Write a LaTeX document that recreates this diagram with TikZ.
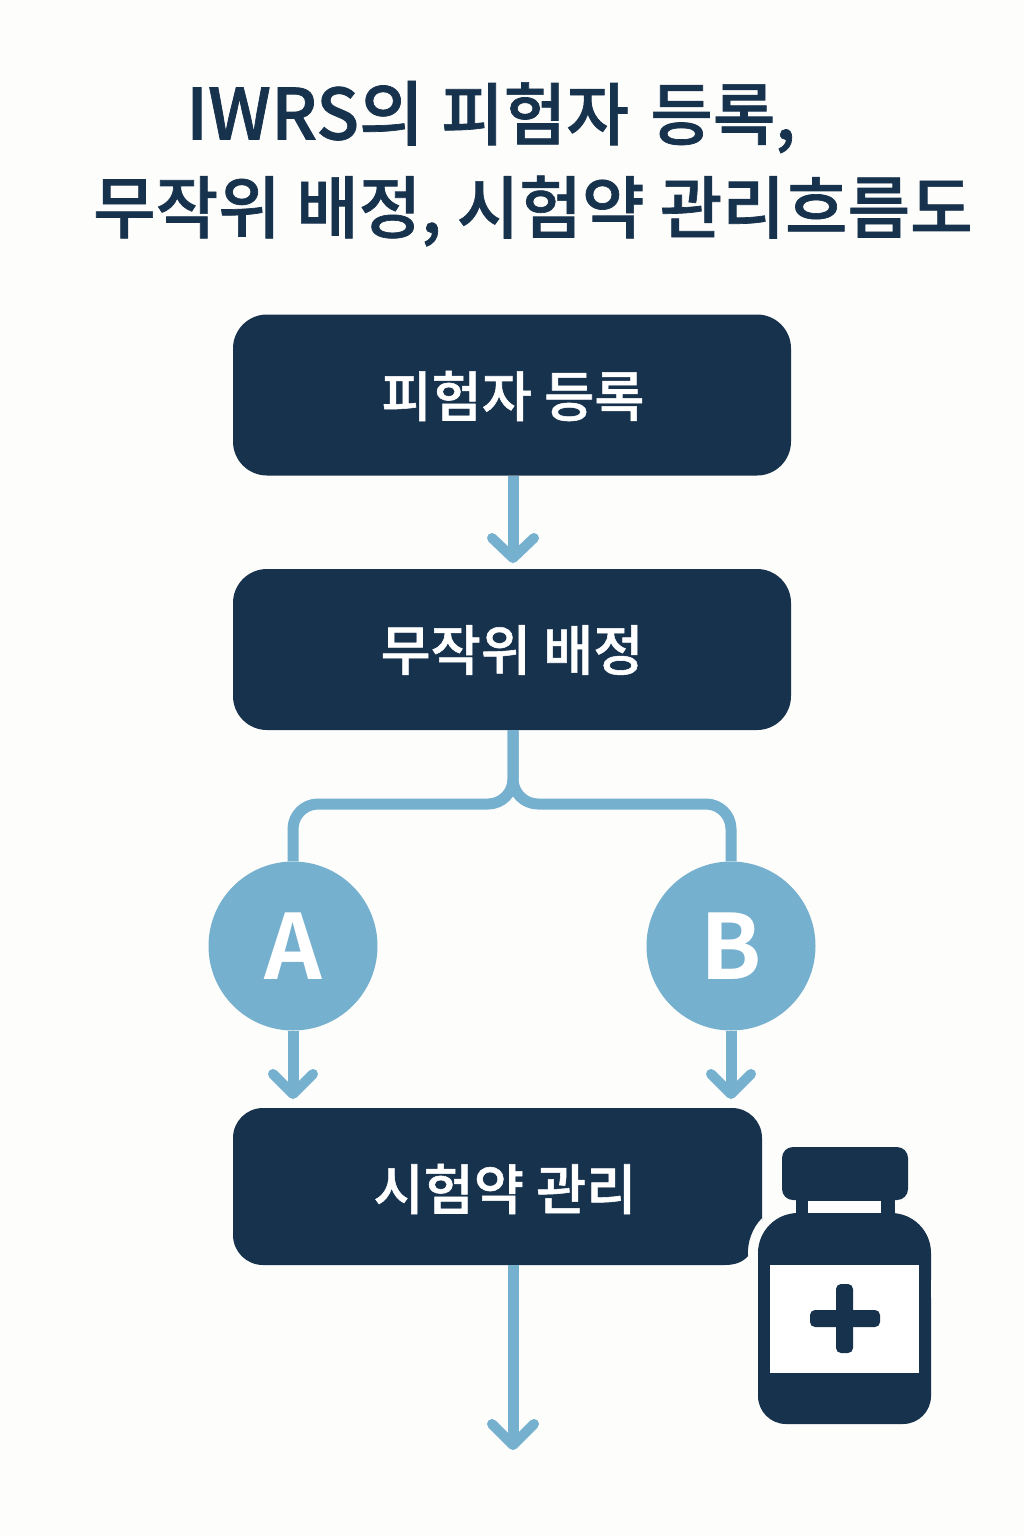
\documentclass[tikz,border=0pt]{standalone}
\usepackage{fontspec}
\newfontfamily\cjk[FakeBold=1]{Noto Sans CJK KR Medium}
\newfontfamily\cjkb{Noto Sans CJK KR Bold}
\definecolor{navy}{HTML}{17324D}
\definecolor{sky}{HTML}{75B0CF}
\definecolor{paper}{HTML}{FDFDFB}
\tikzset{
  flowbox/.style={fill=navy,rounded corners=34pt,minimum width=558pt,minimum height=161pt,inner sep=0pt},
  boxlabel/.style={inner sep=0pt,text=white,font=\cjk\fontsize{54.5}{60}\selectfont},
  armcircle/.style={circle,fill=sky,minimum size=169pt,inner sep=0pt,text=white,font=\cjkb\fontsize{90}{94}\selectfont},
  titleline/.style={anchor=west,inner sep=0pt,text=navy,font=\cjk\fontsize{68}{74}\selectfont},
  link/.style={draw=sky,line width=11pt},
  tipline/.style={draw=sky,line width=10pt,line cap=round,line join=round}
}
\begin{document}
\begin{tikzpicture}[x=1pt,y=-1pt]
\useasboundingbox (0,0) rectangle (1024,1536);
\fill[paper] (0,0) rectangle (1024,1536);
% title
\node[titleline] (t1) at (186,117) {{\fontsize{70.5}{74}\selectfont IWRS의}\hspace{2pt} 피험자\hspace{6pt} 등록,};
\node[titleline] (t2) at (93,211) {무작위 배정, 시험약 관리흐름도};
\coordinate (j) at (513,804);
\coordinate (cA) at (293,804);
\coordinate (cB) at (731,804);
\coordinate (end1) at (513,558);
\coordinate (end4) at (513,1445);
\coordinate (endA) at (293,1094);
\coordinate (endB) at (731,1094);
% boxes
\node[flowbox] (b1) at (512,395) {};
\node[boxlabel] (l1) at (513,396) {피험자 등록};
\node[flowbox] (b2) at (512,649.5) {};
\node[boxlabel] (l2) at (512,650) {무작위 배정};
\node[armcircle] (A) at (293,946) {A};
\node[armcircle] (B) at (731,946) {B};
% third box with notch
\node[minimum width=529pt,minimum height=157pt,inner sep=0pt] (b3) at (497.5,1186.5) {};
\fill[navy,rounded corners=30pt] (233,1186) -- (233,1108) -- (762,1108) -- (762,1190) [sharp corners] -- (762,1218)
  .. controls (752,1228) and (747,1243) .. (748,1256)
  .. controls (743,1262) and (735,1265) .. (725,1265) -- (263,1265)
  [rounded corners=30pt] -- (233,1265) -- (233,1186) -- cycle;
\node[boxlabel] (l3) at (505,1189) {시험약 관리};
% connectors
\draw[link] (b1.south -| end1) -- (end1);
\draw[tipline] (492,538) -- (end1) -- (534,538);
\draw[link,rounded corners=25pt] (b2.south -| j) -- (j) -- (cA) -- (A.north);
\draw[link,rounded corners=25pt] (b2.south -| j) -- (j) -- (cB) -- (B.north);
\draw[link] (A.south) -- (endA);
\draw[tipline] (273,1074) -- (endA) -- (313,1074);
\draw[link] (B.south) -- (endB);
\draw[tipline] (711,1074) -- (endB) -- (751,1074);
\draw[link] (b3.south -| end4) -- (end4);
\draw[tipline] (492,1424) -- (end4) -- (534,1424);
% bottle
\fill[navy,rounded corners=11pt] (782,1147) rectangle (908,1200);
\fill[navy] (796,1195) rectangle (895,1220);
\fill[white] (808,1201) rectangle (881,1213);
\fill[navy,rounded corners=40pt] (758,1213) rectangle (931,1320);
\fill[navy,rounded corners=28pt] (758,1270) rectangle (931,1424);
\fill[navy] (758,1253) rectangle (931,1396);
\fill[white] (770,1265) rectangle (919,1373);
\fill[navy,rounded corners=5pt] (836,1284) rectangle (853,1353);
\fill[navy,rounded corners=5pt] (810,1310) rectangle (880,1327);
\end{tikzpicture}
\end{document}
